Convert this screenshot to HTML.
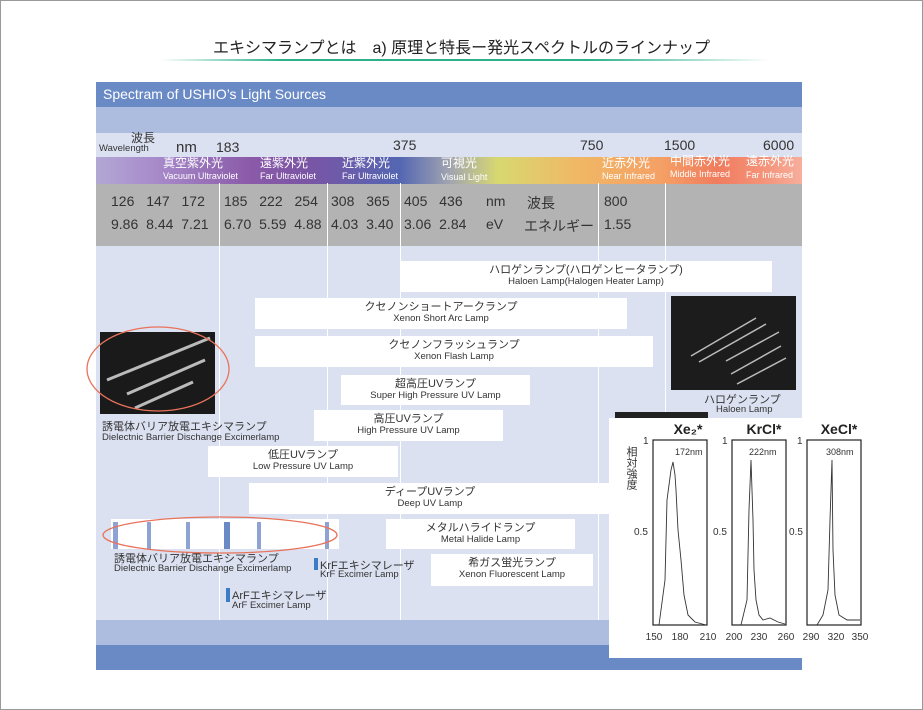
<!DOCTYPE html>
<html><head><meta charset="utf-8"><style>
*{margin:0;padding:0;box-sizing:border-box}
body{width:923px;height:710px;position:relative;background:#fff;font-family:"Liberation Sans","Noto Sans CJK JP",sans-serif;overflow:hidden}
.a{position:absolute}
.box{position:absolute;background:#fff;text-align:center;color:#333;line-height:1}
.box .j{font-size:11px;display:block;margin-top:4px}
.box .e{font-size:9.5px;display:block;margin-top:1px}
.vl{position:absolute;width:1px;background:#fff;top:183px;height:437px}
.t{position:absolute;color:#333;white-space:nowrap}
.w{position:absolute;color:#fff;white-space:nowrap;line-height:1}
</style></head><body>
<div class="a" style="left:0;top:0;width:923px;height:710px;border:1px solid #999"></div>
<div class="t" style="left:0;width:923px;top:34px;text-align:center;font-size:16px;color:#222">エキシマランプとは　a) 原理と特長ー発光スペクトルのラインナップ</div>
<div class="a" style="left:160px;top:59px;width:610px;height:2px;background:linear-gradient(90deg,rgba(40,170,120,0),#2bb08a 20%,#2bb08a 70%,rgba(40,170,120,0))"></div>

<div class="a" style="left:96px;top:82px;width:706px;height:25px;background:#6a8ac6"></div>
<div class="w" style="left:103px;top:87px;font-size:14px">Spectram of USHIO’s Light Sources</div>
<div class="a" style="left:96px;top:107px;width:706px;height:26px;background:#adbde0"></div>
<div class="a" style="left:96px;top:133px;width:706px;height:487px;background:#dbe1f0"></div>
<div class="a" style="left:96px;top:620px;width:706px;height:25px;background:#adbde0"></div>
<div class="a" style="left:96px;top:645px;width:706px;height:25px;background:#6a8ac6"></div>

<div class="t" style="left:131px;top:129px;font-size:12px">波長</div>
<div class="t" style="left:99px;top:143px;font-size:9.5px">Wavelength</div>
<div class="t" style="left:176px;top:139px;font-size:15px">nm</div>
<div class="t" style="left:216px;top:139px;font-size:14px">183</div>
<div class="t" style="left:393px;top:137px;font-size:14px">375</div>
<div class="t" style="left:580px;top:137px;font-size:14px">750</div>
<div class="t" style="left:664px;top:137px;font-size:14px">1500</div>
<div class="t" style="left:763px;top:137px;font-size:14px">6000</div>

<div class="a" style="left:96px;top:157px;width:706px;height:27px;background:linear-gradient(90deg,#b2a8d4 0%,#a88ccb 8%,#8a5aa8 22%,#7a55a5 30%,#5466b2 43%,#a0a4b0 50%,#d8d870 57%,#f0b865 68%,#f5a065 80%,#f07c5e 88%,#f4957c 95%,#f7ae9c 100%)"></div>
<div class="w" style="left:163px;top:157px;font-size:12px">真空紫外光</div>
<div class="w" style="left:163px;top:172px;font-size:9px">Vacuum Ultraviolet</div>
<div class="w" style="left:260px;top:157px;font-size:12px">遠紫外光</div>
<div class="w" style="left:260px;top:172px;font-size:9px">Far Ultraviolet</div>
<div class="w" style="left:342px;top:157px;font-size:12px">近紫外光</div>
<div class="w" style="left:342px;top:172px;font-size:9px">Far Ultraviolet</div>
<div class="w" style="left:441px;top:157px;font-size:12px">可視光</div>
<div class="w" style="left:441px;top:173px;font-size:9px">Visual Light</div>
<div class="w" style="left:602px;top:157px;font-size:12px">近赤外光</div>
<div class="w" style="left:602px;top:172px;font-size:9px">Near Infrared</div>
<div class="w" style="left:670px;top:155px;font-size:12px">中間赤外光</div>
<div class="w" style="left:670px;top:170px;font-size:9px">Middle Infrared</div>
<div class="w" style="left:746px;top:155px;font-size:12px">遠赤外光</div>
<div class="w" style="left:746px;top:171px;font-size:9px">Far Infrared</div>

<div class="a" style="left:96px;top:184px;width:706px;height:62px;background:#b3b3b3"></div>
<div class="t" style="left:111px;top:193px;font-size:14px;word-spacing:8px">126 147 172</div>
<div class="t" style="left:111px;top:216px;font-size:14px;word-spacing:4px">9.86 8.44 7.21</div>
<div class="t" style="left:224px;top:193px;font-size:14px;word-spacing:8px">185 222 254</div>
<div class="t" style="left:224px;top:216px;font-size:14px;word-spacing:4px">6.70 5.59 4.88</div>
<div class="t" style="left:331px;top:193px;font-size:14px;word-spacing:8px">308 365</div>
<div class="t" style="left:331px;top:216px;font-size:14px;word-spacing:4px">4.03 3.40</div>
<div class="t" style="left:404px;top:193px;font-size:14px;word-spacing:8px">405 436</div>
<div class="t" style="left:404px;top:216px;font-size:14px;word-spacing:4px">3.06 2.84</div>
<div class="t" style="left:486px;top:193px;font-size:14px">nm</div>
<div class="t" style="left:486px;top:216px;font-size:14px">eV</div>
<div class="t" style="left:527px;top:193px;font-size:14px">波長</div>
<div class="t" style="left:524px;top:216px;font-size:14px">エネルギー</div>
<div class="t" style="left:604px;top:193px;font-size:14px">800</div>
<div class="t" style="left:604px;top:216px;font-size:14px">1.55</div>

<div class="vl" style="left:219px"></div>
<div class="vl" style="left:327px"></div>
<div class="vl" style="left:400px"></div>
<div class="vl" style="left:598px"></div>
<div class="vl" style="left:665px"></div>

<div class="box" style="left:400px;top:261px;width:372px;height:31px"><span class="j">ハロゲンランプ(ハロゲンヒータランプ)</span><span class="e">Haloen Lamp(Halogen Heater Lamp)</span></div>
<div class="box" style="left:255px;top:298px;width:372px;height:31px"><span class="j">クセノンショートアークランプ</span><span class="e">Xenon Short Arc Lamp</span></div>
<div class="box" style="left:255px;top:336px;width:398px;height:31px"><span class="j">クセノンフラッシュランプ</span><span class="e">Xenon Flash Lamp</span></div>
<div class="box" style="left:341px;top:375px;width:189px;height:30px"><span class="j">超高圧UVランプ</span><span class="e">Super High Pressure UV Lamp</span></div>
<div class="box" style="left:314px;top:410px;width:189px;height:31px"><span class="j">高圧UVランプ</span><span class="e">High Pressure UV Lamp</span></div>
<div class="box" style="left:208px;top:446px;width:190px;height:31px"><span class="j">低圧UVランプ</span><span class="e">Low Pressure UV Lamp</span></div>
<div class="box" style="left:249px;top:483px;width:362px;height:31px"><span class="j">ディープUVランプ</span><span class="e">Deep UV Lamp</span></div>
<div class="box" style="left:386px;top:519px;width:189px;height:30px"><span class="j">メタルハライドランプ</span><span class="e">Metal Halide Lamp</span></div>
<div class="box" style="left:431px;top:554px;width:162px;height:32px"><span class="j">希ガス蛍光ランプ</span><span class="e">Xenon Fluorescent Lamp</span></div>

<div class="a" style="left:111px;top:519px;width:228px;height:30px;background:#fff"></div>
<div class="a" style="left:113px;top:522px;width:5px;height:27px;background:#8ea2d4"></div>
<div class="a" style="left:147px;top:522px;width:4px;height:27px;background:#8ea2d4"></div>
<div class="a" style="left:186px;top:522px;width:4px;height:27px;background:#8ea2d4"></div>
<div class="a" style="left:224px;top:522px;width:6px;height:27px;background:#6a8ac6"></div>
<div class="a" style="left:257px;top:522px;width:4px;height:27px;background:#8ea2d4"></div>
<div class="a" style="left:325px;top:522px;width:4px;height:27px;background:#8ea2d4"></div>
<svg class="a" style="left:100px;top:510px" width="245" height="50"><ellipse cx="120" cy="25" rx="117" ry="18" fill="none" stroke="#e8735a" stroke-width="1.3"/></svg>
<div class="t" style="left:114px;top:550px;font-size:11px">誘電体バリア放電エキシマランプ</div>
<div class="t" style="left:114px;top:563px;font-size:9.5px">Dielectnic Barrier Dischange Excimerlamp</div>
<div class="a" style="left:314px;top:558px;width:4px;height:12px;background:#3a7cc8"></div>
<div class="t" style="left:320px;top:557px;font-size:11px">KrFエキシマレーザ</div>
<div class="t" style="left:320px;top:569px;font-size:9.5px">KrF Excimer Lamp</div>
<div class="a" style="left:226px;top:588px;width:4px;height:14px;background:#3a7cc8"></div>
<div class="t" style="left:232px;top:587px;font-size:11px">ArFエキシマレーザ</div>
<div class="t" style="left:232px;top:600px;font-size:9.5px">ArF Excimer Lamp</div>

<svg class="a" style="left:85px;top:320px" width="150" height="100">
<rect x="15" y="12" width="115" height="82" fill="#1a1a1a"/>
<line x1="22" y1="60" x2="125" y2="18" stroke="#bbb" stroke-width="3"/>
<line x1="42" y1="74" x2="120" y2="40" stroke="#bbb" stroke-width="3"/>
<line x1="50" y1="88" x2="108" y2="62" stroke="#bbb" stroke-width="3"/>
<ellipse cx="73" cy="49" rx="71" ry="42" fill="none" stroke="#e8735a" stroke-width="1.3"/>
</svg>
<div class="t" style="left:102px;top:418px;font-size:11px">誘電体バリア放電エキシマランプ</div>
<div class="t" style="left:102px;top:432px;font-size:9.5px">Dielectnic Barrier Dischange Excimerlamp</div>

<svg class="a" style="left:671px;top:296px" width="125" height="94">
<rect width="125" height="94" fill="#1c1c1c"/>
<g stroke="#bbb" stroke-width="1.5"><line x1="20" y1="60" x2="85" y2="22"/><line x1="28" y1="66" x2="95" y2="28"/><line x1="55" y1="65" x2="108" y2="36"/><line x1="60" y1="78" x2="110" y2="50"/><line x1="66" y1="88" x2="115" y2="62"/></g>
</svg>
<div class="t" style="left:704px;top:391px;font-size:11px">ハロゲンランプ</div>
<div class="t" style="left:716px;top:404px;font-size:9.5px">Haloen Lamp</div>
<div class="a" style="left:615px;top:412px;width:93px;height:6px;background:#222"></div>

<div class="a" style="left:609px;top:418px;width:269px;height:240px;background:#fff"></div>
<svg class="a" style="left:609px;top:418px" width="269" height="240" font-family="Liberation Sans,sans-serif">
<g font-size="14" font-weight="bold" text-anchor="middle" fill="#222"><text x="79" y="16">Xe₂*</text><text x="155" y="16">KrCl*</text><text x="230" y="16">XeCl*</text></g>
<g fill="none" stroke="#222" stroke-width="1.2"><rect x="44" y="22" width="54" height="185"/><rect x="123" y="22" width="54" height="185"/><rect x="198" y="22" width="54" height="185"/></g>
<g font-size="10" fill="#333"><text x="34" y="26">1</text><text x="113" y="26">1</text><text x="188" y="26">1</text>
<text x="25" y="117">0.5</text><text x="104" y="117">0.5</text><text x="180" y="117">0.5</text>
<text x="66" y="37" font-size="9">172nm</text><text x="140" y="37" font-size="9">222nm</text><text x="217" y="37" font-size="9">308nm</text>
<g text-anchor="middle"><text x="45" y="222">150</text><text x="71" y="222">180</text><text x="99" y="222">210</text><text x="125" y="222">200</text><text x="150" y="222">230</text><text x="177" y="222">260</text><text x="202" y="222">290</text><text x="227" y="222">320</text><text x="251" y="222">350</text></g></g>
<text x="22" y="28" font-size="11" fill="#333" style="writing-mode:vertical-rl">相対強度</text>
<g fill="none" stroke="#333" stroke-width="0.9">
<polyline points="50,207 56,162 58,82 62,52 64,44 66,57 67,72 69,112 72,142 75,177 79,197 86,204 97,207"/>
<polyline points="132,207 138,182 140,92 142,42 144,102 145,152 147,182 150,197 154,202 161,200 169,204 176,206"/>
<polyline points="208,207 214,197 219,172 221,102 223,42 224,132 226,177 230,197 238,202 251,202"/>
</g>
</svg>
</body></html>
